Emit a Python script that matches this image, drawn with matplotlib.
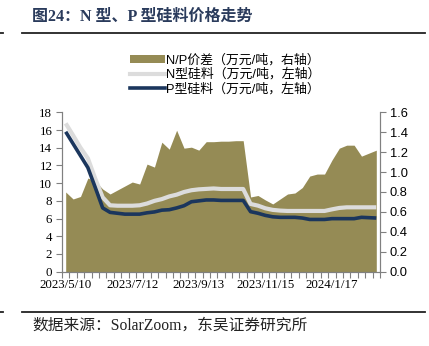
import matplotlib
matplotlib.use("Agg")
import matplotlib.pyplot as plt
from matplotlib.lines import Line2D
from matplotlib.patches import Patch
import numpy as np

# Weekly observations, 2023/5/10 onward
dates = ["2023/5/10", "2023/7/12", "2023/9/13", "2023/11/15", "2024/1/17"]
date_idx = [0, 9, 18, 27, 36]

# N/P spread (10k CNY/t, right axis)
spread = [0.80, 0.73, 0.755, 0.94, 0.91, 0.83, 0.78, 0.82, 0.86, 0.90,
          0.88, 1.08, 1.05, 1.30, 1.23, 1.42, 1.24, 1.25, 1.22, 1.305,
          1.305, 1.31, 1.31, 1.315, 1.315, 0.75, 0.765, 0.72, 0.68, 0.73,
          0.78, 0.79, 0.845, 0.96, 0.98, 0.98, 1.12, 1.24, 1.27, 1.27,
          1.16, 1.19, 1.22]

# N-type polysilicon (10k CNY/t, left axis)
n_type = [16.75, 15.4, 14.0, 12.8, 10.5, 8.4, 7.5, 7.45, 7.45, 7.45,
          7.5, 7.7, 8.0, 8.2, 8.5, 8.7, 9.0, 9.2, 9.3, 9.35,
          9.4, 9.34, 9.34, 9.34, 9.34, 7.65, 7.46, 7.16, 6.98, 6.9,
          6.86, 6.86, 6.86, 6.86, 6.86, 6.86, 7.04, 7.2, 7.27, 7.27,
          7.27, 7.27, 7.27]

# P-type polysilicon (10k CNY/t, left axis)
p_type = [15.8, 14.45, 13.1, 11.75, 9.5, 7.2, 6.7, 6.6, 6.5, 6.5,
          6.5, 6.65, 6.75, 6.95, 7.0, 7.2, 7.45, 7.9, 8.0, 8.1,
          8.1, 8.05, 8.05, 8.05, 8.05, 6.78, 6.6, 6.36, 6.2, 6.14,
          6.14, 6.14, 6.06, 5.9, 5.9, 5.9, 5.99, 5.99, 5.99, 5.99,
          6.14, 6.1, 6.06]

left_ticks = list(range(0, 19, 2))
right_ticks = [0.0, 0.2, 0.4, 0.6, 0.8, 1.0, 1.2, 1.4, 1.6]

OLIVE = "#958B55"
NAVY = "#1B365D"
LIGHT = "#DCDCDC"
AXIS = "#808080"
SERIF_CJK = ["Liberation Serif", "Noto Sans CJK SC"]
SANS_CJK = ["Liberation Sans", "Noto Sans CJK SC"]

W, H = 429, 346
fig = plt.figure(figsize=(W / 100, H / 100), dpi=100)
fig.patch.set_facecolor("white")

ax = fig.add_axes([62 / W, 1 - 271.7 / H, (380 - 62) / W, (271.7 - 112.3) / H])
ax2 = ax.twinx()

x = np.arange(len(spread))
ax2.fill_between(x, 0, spread, color=OLIVE, linewidth=0)
ax.plot(x, n_type, color=LIGHT, lw=3.0, solid_capstyle="butt")
ax.plot(x, p_type, color=NAVY, lw=2.6, solid_capstyle="butt")

ax.set_zorder(ax2.get_zorder() + 1)
ax.patch.set_visible(False)

ax.set_xlim(-0.5, len(spread) - 0.5)
ax.set_ylim(0, 18)
ax2.set_ylim(0, 1.6)

ax.set_yticks(left_ticks)
ax.set_yticklabels([str(v) for v in left_ticks], family="Liberation Serif", fontsize=9.3)
ax2.set_yticks(right_ticks)
ax2.set_yticklabels([f"{v:.1f}" for v in right_ticks], family="Liberation Sans", fontsize=9.3)

ax.set_xticks(np.arange(-0.5, len(spread), 1.0))
ax.set_xticklabels([])
ax.set_xticks(date_idx, minor=True)
ax.set_xticklabels(dates, minor=True, family="Liberation Serif", fontsize=9.3)
ax.tick_params(axis="x", which="major", length=4, color=AXIS, direction="out")
ax.tick_params(axis="x", which="minor", length=0, pad=5)
ax.tick_params(axis="y", length=4, color=AXIS, pad=3)
ax2.tick_params(axis="y", length=4, color=AXIS, pad=3)

for a in (ax, ax2):
    a.spines["top"].set_visible(False)
    for s in ("left", "right", "bottom"):
        a.spines[s].set_color(AXIS)
        a.spines[s].set_linewidth(0.8)

handles = [Patch(facecolor=OLIVE, edgecolor="none"),
           Line2D([], [], color=LIGHT, lw=3.0),
           Line2D([], [], color=NAVY, lw=2.6)]
labels = ["N/P价差（万元/吨，右轴）", "N型硅料（万元/吨，左轴）", "P型硅料（万元/吨，左轴）"]
fig.legend(handles, labels, loc="upper left", bbox_to_anchor=(130 / W, 1 - 54 / H),
           frameon=False, prop={"family": SANS_CJK, "size": 9.3},
           handlelength=2.7, handleheight=0.6, handletextpad=0.1, labelspacing=0.15,
           borderpad=0, borderaxespad=0)

# Title and rules
fig.text(32 / W, 1 - 17 / H, "图24：N 型、P 型硅料价格走势", family=SERIF_CJK,
         fontsize=11.5, fontweight="bold", color="#2A3B5C", va="center", ha="left")
fig.add_artist(Line2D([22 / W, 425 / W], [1 - 33 / H, 1 - 33 / H], color="#222222", lw=1.3))
fig.add_artist(Line2D([0, 3 / W], [1 - 33 / H, 1 - 33 / H], color="#222222", lw=1.3))
fig.add_artist(Line2D([22 / W, 425 / W], [1 - 312 / H, 1 - 312 / H], color="#222222", lw=1.3))
fig.add_artist(Line2D([0, 3 / W], [1 - 312 / H, 1 - 312 / H], color="#222222", lw=1.3))

fig.text(32 / W, 1 - 326 / H, "数据来源：SolarZoom，东吴证券研究所", family=SERIF_CJK,
         fontsize=11.3, color="#222222", va="center", ha="left")

fig.savefig("out.png", dpi=100)
